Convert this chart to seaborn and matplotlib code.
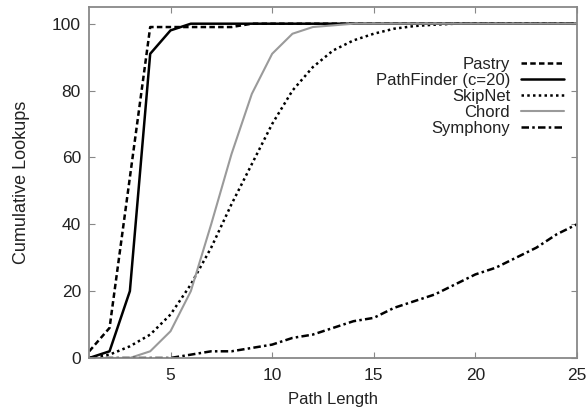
import matplotlib
matplotlib.use("Agg")
import matplotlib.pyplot as plt
import seaborn as sns
import pandas as pd

path_length = list(range(1, 26))
pastry = [2, 9, 54, 99, 99, 99, 99, 99, 100, 100, 100, 100, 100, 100, 100, 100, 100, 100, 100, 100, 100, 100, 100, 100, 100]
pathfinder = [0, 2, 20, 91, 98, 100, 100, 100, 100, 100, 100, 100, 100, 100, 100, 100, 100, 100, 100, 100, 100, 100, 100, 100, 100]
skipnet = [0, 1, 3.5, 7, 13, 22, 33, 46, 58, 70, 80, 87, 92, 95, 97, 98.5, 99.3, 99.7, 100, 100, 100, 100, 100, 100, 100]
chord = [0, 0, 0, 2, 8, 20, 40, 61, 79, 91, 97, 99, 99.5, 100, 100, 100, 100, 100, 100, 100, 100, 100, 100, 100, 100]
symphony = [0, 0, 0, 0, 0, 1, 2, 2, 3, 4, 6, 7, 9, 11, 12, 15, 17, 19, 22, 25, 27, 30, 33, 37, 40]

series_names = ["Pastry", "PathFinder (c=20)", "SkipNet", "Chord", "Symphony"]
series_values = [pastry, pathfinder, skipnet, chord, symphony]
x_ticks = [5, 10, 15, 20, 25]
y_ticks = [0, 20, 40, 60, 80, 100]

sns.set_style("ticks")
plt.rcParams['font.family'] = ['Liberation Sans', 'DejaVu Sans']

styles = {
    "Pastry": dict(color="black", linestyle=(0, (2.2, 1.3)), linewidth=1.8),
    "PathFinder (c=20)": dict(color="black", linestyle="-", linewidth=1.8),
    "SkipNet": dict(color="black", linestyle=(0, (1, 1.3)), linewidth=1.8),
    "Chord": dict(color="#9a9a9a", linestyle="-", linewidth=1.5),
    "Symphony": dict(color="black", linestyle=(0, (3, 1.3, 1, 1.3)), linewidth=1.8),
}

fig = plt.figure(figsize=(5.87, 4.11), dpi=100)
ax = fig.add_axes([0.152, 0.129, 0.831, 0.854])

for name, vals in zip(series_names, series_values):
    df = pd.DataFrame({"Path Length": path_length, "Cumulative Lookups": vals})
    sns.lineplot(data=df, x="Path Length", y="Cumulative Lookups", ax=ax,
                 label=name, **styles[name])

ax.set_xlim(1, 25)
ax.set_ylim(0, 105)
ax.set_xticks(x_ticks)
ax.set_yticks(y_ticks)
ax.tick_params(direction="in", top=True, right=True, length=4.5, color="#888888",
               labelsize=12.5, labelcolor="#222222")
ax.tick_params(axis="y", pad=6)
ax.tick_params(axis="x", pad=7)
for s in ax.spines.values():
    s.set_color("#888888")
    s.set_linewidth(1.3)
ax.set_xlabel("Path Length", fontsize=12, color="#222222", labelpad=7)
ax.set_ylabel("Cumulative Lookups", fontsize=13, color="#222222", labelpad=16)

leg = ax.legend(loc="upper right", bbox_to_anchor=(0.998, 0.892), frameon=False,
                markerfirst=False, fontsize=12, handlelength=2.6,
                labelspacing=0.06, handletextpad=0.65, borderaxespad=0.3)
for t in leg.get_texts():
    t.set_color("#222222")

fig.savefig("out.png", dpi=100)
